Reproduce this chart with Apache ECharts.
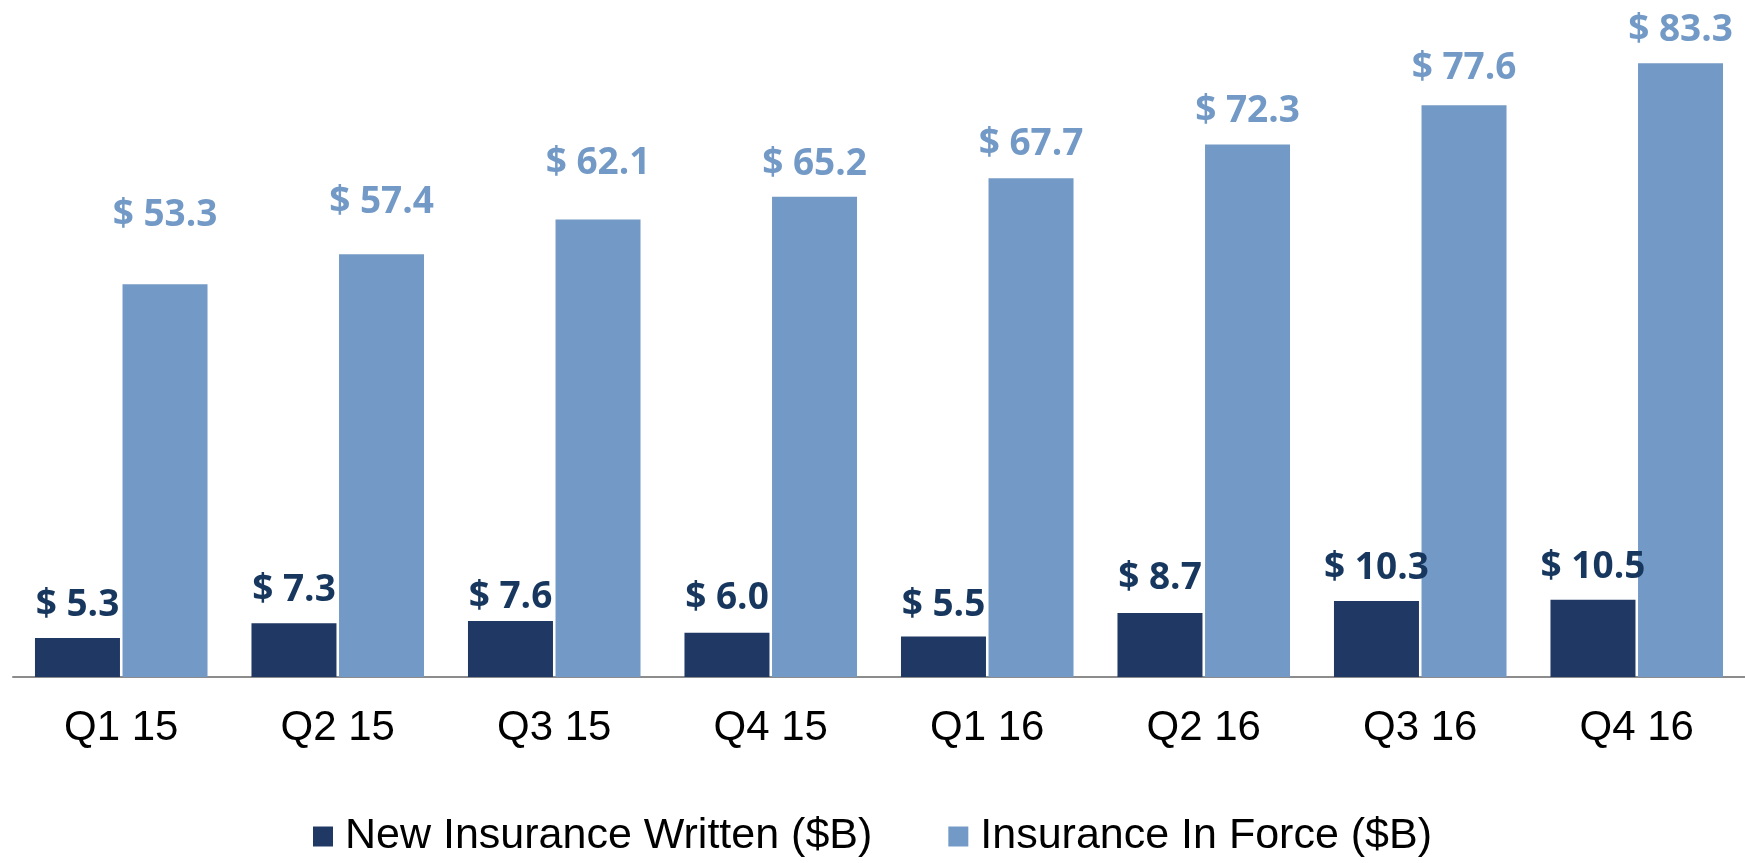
<!DOCTYPE html>
<html>
<head>
<meta charset="utf-8">
<title>Insurance Written / In Force</title>
<script src="https://cdn.jsdelivr.net/npm/echarts@6/dist/echarts.min.js"></script>
<style>
	html, body { margin: 0; padding: 0; background: #fff; }
	#insuranceChart { width: 1745px; height: 863px; }
</style>
</head>
<body>
<div id="insuranceChart"></div>
<script>
// 季度
var quarters = ['Q1 15', 'Q2 15', 'Q3 15', 'Q4 15', 'Q1 16', 'Q2 16', 'Q3 16', 'Q4 16'];
// New Insurance Written ($B)
var newWritten = [5.3, 7.3, 7.6, 6.0, 5.5, 8.7, 10.3, 10.5];
// Insurance In Force ($B)
var inForce = [53.3, 57.4, 62.1, 65.2, 67.7, 72.3, 77.6, 83.3];

// 标签在原图里是手动挪过的，这里按位置微调
var baseDist = 14;
var writtenNudge = [0, 0, -9, 2, -1, 2, 0, 0];
var forceNudge = [36, 19, 24, 0, 1, 0, 4, 0];

function withLabels(values, nudge) {
	return values.map(function(v, i) {
		return { value: v, label: { distance: baseDist + nudge[i] } };
	});
}

var labelFmt = function(p) {
	return '$ ' + p.value.toFixed(1);
};

var myChart = echarts.init(document.getElementById('insuranceChart'));
var option = {
	animation: false,
	legend: {
		top: 810,
		left: 'center',
		itemWidth: 20,
		itemHeight: 20,
		itemGap: 76,
		icon: 'rect',
		textStyle: {
			fontFamily: 'Liberation Sans',
			fontSize: 43,
			color: '#000',
			padding: [0, 0, 0, 7]
		},
		data: ['New Insurance Written ($B)', 'Insurance In Force ($B)']
	},
	grid: {
		left: 13,
		right: 0,
		top: 14,
		bottom: 186
	},
	xAxis: {
		type: 'category',
		data: quarters,
		axisLine: { lineStyle: { color: '#8c8c8c', width: 2 } },
		axisTick: { show: false },
		axisLabel: {
			margin: 30,
			fontFamily: 'Liberation Sans',
			fontSize: 42,
			color: '#000'
		}
	},
	yAxis: {
		type: 'value',
		min: 0,
		max: 90,
		show: false,
		splitLine: { show: false }
	},
	series: [
		{
			name: 'New Insurance Written ($B)',
			type: 'bar',
			barWidth: 85,
			barGap: '3%',
			itemStyle: { color: '#203864' },
			label: {
				show: true,
				position: 'top',
				formatter: labelFmt,
				fontFamily: 'Open Sans',
				fontWeight: 'bold',
				fontSize: 37,
				color: '#17375e'
			},
			data: withLabels(newWritten, writtenNudge)
		},
		{
			name: 'Insurance In Force ($B)',
			type: 'bar',
			barWidth: 85,
			itemStyle: { color: '#739ac6' },
			label: {
				show: true,
				position: 'top',
				formatter: labelFmt,
				fontFamily: 'Open Sans',
				fontWeight: 'bold',
				fontSize: 37,
				color: '#739ac6'
			},
			data: withLabels(inForce, forceNudge)
		}
	]
};
myChart.setOption(option);
</script>
</body>
</html>
